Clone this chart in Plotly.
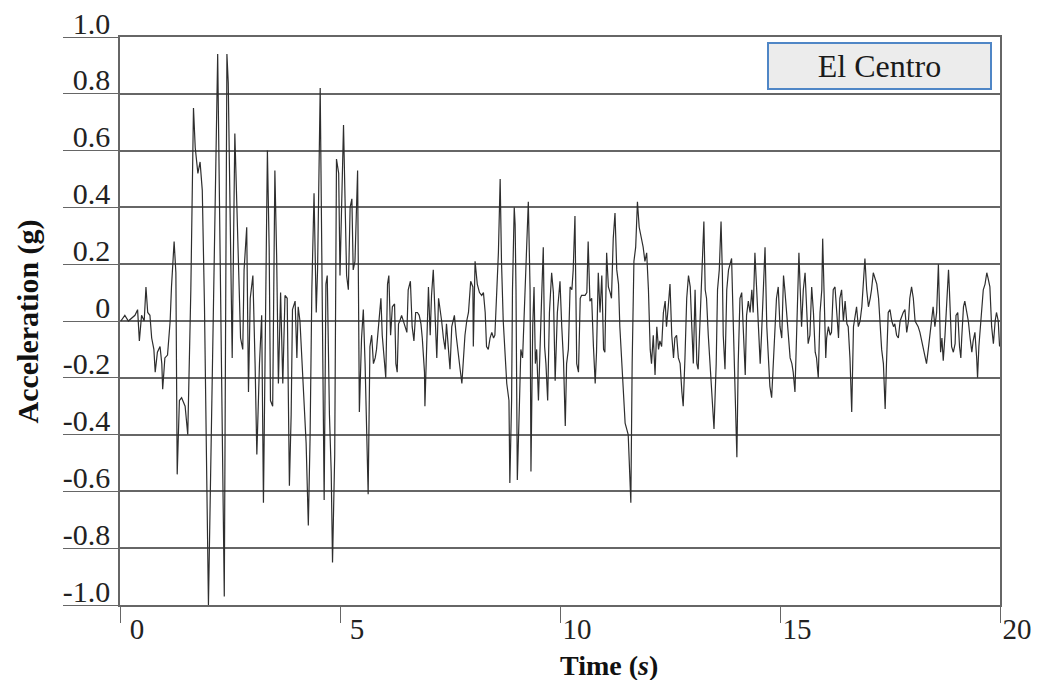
import plotly.graph_objects as go

# El Centro ground acceleration record, turning points
time_s = [
    0.02, 0.11, 0.19, 0.27, 0.34, 0.40, 0.44, 0.49, 0.55, 0.59, 0.63, 0.68, 0.72, 0.77, 0.80, 0.85,
    0.91, 0.95, 0.97, 1.02, 1.08, 1.14, 1.17, 1.23, 1.27, 1.30, 1.35, 1.40, 1.48, 1.54, 1.57, 1.61,
    1.67, 1.71, 1.77, 1.82, 1.87, 1.92, 2.01, 2.22, 2.37, 2.43, 2.46, 2.55, 2.61,
    2.69, 2.74, 2.79, 2.82, 2.88, 2.92, 2.96, 3.02, 3.07, 3.11, 3.17, 3.22, 3.26, 3.30, 3.35, 3.39,
    3.42, 3.47, 3.52, 3.56, 3.60, 3.65, 3.70, 3.75, 3.80, 3.85, 3.89, 3.92, 3.98, 4.02, 4.05, 4.09,
    4.13, 4.17, 4.23, 4.28, 4.32, 4.36, 4.41, 4.46, 4.49, 4.55, 4.59, 4.64, 4.68, 4.71, 4.76, 4.80,
    4.83, 4.88, 4.92, 4.97, 5.00, 5.08,
    5.15, 5.19, 5.23, 5.27, 5.30, 5.34, 5.40, 5.44, 5.49, 5.53, 5.57, 5.61, 5.64, 5.68, 5.72, 5.76,
    5.80, 5.83, 5.87, 5.93, 5.96, 6.01, 6.04, 6.08, 6.11, 6.15, 6.19, 6.24, 6.27, 6.30, 6.33, 6.36,
    6.40, 6.48, 6.52, 6.55, 6.60, 6.64, 6.68, 6.72, 6.76, 6.80, 6.84, 6.87, 6.92, 6.93, 6.97, 7.01,
    7.05, 7.08, 7.12, 7.16, 7.20, 7.24, 7.27, 7.31, 7.35, 7.39, 7.42, 7.46, 7.50, 7.54, 7.60, 7.64,
    7.69, 7.73,
    7.77, 7.80, 7.84, 7.88, 7.92, 7.97, 8.02, 8.03, 8.07, 8.12, 8.17, 8.22, 8.26, 8.30, 8.33, 8.37,
    8.41, 8.45, 8.49, 8.52, 8.56, 8.60, 8.64, 8.67, 8.71, 8.79, 8.84, 8.86, 8.90, 8.92, 8.96, 8.98,
    9.00, 9.03, 9.08, 9.11, 9.15, 9.21, 9.28, 9.32, 9.34, 9.38, 9.41, 9.44, 9.47, 9.51, 9.55, 9.58,
    9.62, 9.65, 9.68, 9.72, 9.76, 9.81, 9.85, 9.89, 9.94, 10.00, 10.04, 10.08, 10.12, 10.15, 10.19,
    10.23, 10.27, 10.30, 10.34,
    10.38, 10.42, 10.46, 10.49, 10.57, 10.61, 10.64, 10.68, 10.72, 10.76, 10.80, 10.83, 10.87, 10.91,
    10.95, 10.99, 11.02, 11.06, 11.10, 11.14, 11.17, 11.21, 11.25, 11.29, 11.33, 11.36, 11.40, 11.44,
    11.48, 11.55, 11.59, 11.61, 11.64, 11.68, 11.72, 11.76, 11.80, 11.86, 11.89, 11.93, 11.97, 12.01,
    12.05, 12.08, 12.12, 12.16, 12.20, 12.24, 12.27, 12.31, 12.35, 12.39, 12.42, 12.46, 12.50, 12.54,
    12.58, 12.61, 12.65, 12.69, 12.73, 12.77, 12.80, 12.84, 12.88, 12.92, 12.96,
    12.99, 13.03, 13.07, 13.11, 13.14, 13.18, 13.24, 13.27, 13.30, 13.33, 13.37, 13.41, 13.45, 13.50,
    13.55, 13.58, 13.62, 13.66, 13.69, 13.71, 13.75, 13.79, 13.83, 13.90, 13.94, 13.98, 14.02, 14.05,
    14.09, 14.13, 14.17, 14.21, 14.24, 14.28, 14.32, 14.36, 14.39, 14.43, 14.47, 14.51, 14.55, 14.58,
    14.62, 14.66, 14.70, 14.74, 14.77, 14.81, 14.85, 14.89, 14.92, 14.96, 15.00, 15.04, 15.08, 15.11,
    15.15, 15.19, 15.23, 15.27, 15.30, 15.34, 15.38, 15.43, 15.46, 15.49, 15.53, 15.57,
    15.61, 15.64, 15.68, 15.72, 15.76, 15.80, 15.83, 15.87, 15.91, 15.95, 15.97, 16.00, 16.04, 16.06,
    16.10, 16.14, 16.17, 16.21, 16.25, 16.29, 16.33, 16.36, 16.40, 16.44, 16.48, 16.52, 16.55, 16.59,
    16.63, 16.67, 16.71, 16.74, 16.78, 16.82, 16.86, 16.89, 16.93, 16.97, 17.01, 17.05, 17.08, 17.12,
    17.16, 17.20, 17.24, 17.27, 17.31, 17.35, 17.39, 17.42, 17.46, 17.50, 17.54, 17.58, 17.61, 17.65,
    17.69, 17.73, 17.77, 17.80, 17.84, 17.88, 17.92, 17.95, 17.99, 18.03, 18.07, 18.14, 18.18,
    18.22, 18.26, 18.30, 18.33, 18.37, 18.41, 18.45, 18.48, 18.52, 18.56, 18.60, 18.62, 18.65, 18.68,
    18.71, 18.75, 18.79, 18.83, 18.85, 18.88, 18.90, 18.94, 18.98, 19.00, 19.04, 19.08, 19.11, 19.13,
    19.17, 19.20, 19.24, 19.28, 19.32, 19.36, 19.39, 19.43, 19.47, 19.49, 19.52, 19.55, 19.58, 19.62,
    19.66, 19.70, 19.73, 19.77, 19.81, 19.85, 19.89, 19.92, 19.96, 19.99,
]

accel_g = [
    0.0, 0.02, 0.0, 0.01, 0.02, 0.04, -0.07, 0.02, 0.0, 0.12, 0.03, 0.02, -0.06, -0.10, -0.18, -0.11,
    -0.09, -0.15, -0.24, -0.13, -0.12, 0.0, 0.12, 0.28, 0.17, -0.54, -0.28, -0.27, -0.30, -0.40, -0.18, 0.11,
    0.75, 0.61, 0.52, 0.56, 0.46, 0.05, -1.0, 0.94, -0.97, 0.94, 0.84, -0.13, 0.66,
    0.25, -0.06, -0.10, 0.18, 0.33, -0.25, 0.08, 0.16, -0.15, -0.47, -0.15, 0.02, -0.64, -0.15, 0.60, 0.26,
    -0.28, -0.30, 0.53, 0.23, -0.22, 0.10, -0.22, 0.09, 0.08, -0.58, -0.33, 0.04, 0.07, -0.13, 0.05, 0.0,
    -0.11, -0.23, -0.43, -0.72, -0.41, 0.11, 0.45, 0.03, 0.18, 0.82, 0.21, -0.63, 0.13, 0.16, -0.33, -0.53,
    -0.85, -0.47, 0.57, 0.52, 0.16, 0.69,
    0.16, 0.11, 0.40, 0.43, 0.18, 0.21, 0.53, -0.32, -0.06, 0.04, -0.15, -0.41, -0.61, -0.09, -0.05, -0.15,
    -0.13, -0.10, -0.02, 0.08, -0.05, -0.15, -0.20, 0.13, 0.16, -0.05, 0.05, 0.06, -0.15, -0.18, -0.01, 0.0,
    0.02, -0.02, -0.04, 0.11, 0.14, -0.02, -0.07, 0.03, 0.03, 0.02, -0.01, -0.06, -0.18, -0.30, -0.08, 0.12,
    -0.05, 0.09, 0.18, 0.03, -0.13, 0.08, 0.05, 0.0, -0.06, -0.10, -0.01, -0.09, -0.17, -0.02, 0.02, -0.05,
    -0.13, -0.17,
    -0.22, -0.13, -0.05, 0.0, 0.03, 0.14, 0.12, -0.09, 0.21, 0.13, 0.10, 0.09, 0.10, 0.03, -0.09, -0.10,
    -0.06, -0.04, -0.06, -0.05, 0.11, 0.24, 0.50, 0.21, 0.0, -0.22, -0.28, -0.57, -0.28, 0.11, 0.40, 0.34,
    0.11, -0.56, -0.28, -0.10, -0.13, 0.11, 0.42, 0.11, -0.53, -0.02, 0.12, -0.15, -0.10, -0.28, -0.11, 0.07,
    0.26, -0.09, -0.15, -0.28, 0.03, 0.17, 0.10, -0.21, 0.03, 0.14, -0.02, -0.14, -0.37, -0.15, -0.10,
    0.12, 0.11, 0.18, 0.37,
    -0.15, -0.18, 0.08, 0.09, 0.09, 0.10, 0.28, 0.07, 0.08, -0.09, -0.22, -0.11, 0.17, 0.03,
    0.16, -0.10, -0.11, 0.24, 0.12, 0.10, 0.08, 0.29, 0.38, 0.18, 0.13, -0.02, -0.15, -0.28,
    -0.36, -0.40, -0.54, -0.64, -0.15, 0.21, 0.26, 0.42, 0.33, 0.29, 0.26, 0.21, 0.24, 0.11,
    -0.10, -0.15, -0.05, -0.19, -0.02, -0.10, -0.07, -0.09, 0.03, 0.07, -0.02, 0.05, 0.13, -0.05,
    -0.13, -0.06, -0.05, -0.13, -0.15, -0.25, -0.30, -0.13, 0.08, 0.16, 0.12,
    0.0, -0.15, 0.11, -0.15, -0.17, 0.0, 0.28, 0.35, 0.11, 0.08, -0.05, -0.15, -0.28, -0.38,
    -0.15, 0.11, 0.18, 0.35, 0.17, -0.05, -0.17, 0.11, 0.18, 0.22, -0.02, -0.22, -0.48, -0.15,
    0.08, 0.10, -0.02, -0.19, 0.02, 0.07, 0.03, 0.11, 0.03, 0.24, 0.11, -0.05, -0.15, -0.05,
    0.11, 0.26, -0.02, -0.13, -0.23, -0.27, -0.13, 0.03, 0.08, 0.12, -0.02, -0.06, 0.16, 0.11,
    0.03, -0.05, -0.13, -0.15, -0.18, -0.25, -0.02, 0.24, 0.11, -0.02, 0.11, 0.17,
    0.03, -0.08, -0.05, 0.12, 0.03, -0.11, -0.13, -0.20, 0.03, 0.11, 0.29, 0.11, -0.13, -0.06,
    -0.02, -0.05, -0.04, 0.11, 0.12, 0.03, -0.06, 0.08, 0.11, 0.0, 0.07, -0.01, -0.02, -0.13,
    -0.32, -0.02, 0.03, 0.05, -0.02, 0.0, 0.05, 0.11, 0.22, 0.11, 0.05, 0.08, 0.11, 0.17,
    0.15, 0.13, 0.08, -0.02, -0.10, -0.15, -0.31, -0.15, 0.03, 0.04, 0.0, -0.02, -0.01, -0.05,
    -0.06, 0.0, 0.02, 0.03, 0.04, -0.04, 0.0, 0.08, 0.12, 0.08, 0.0, -0.02, -0.04,
    -0.07, -0.11, -0.13, -0.15, -0.10, -0.05, 0.02, 0.05, -0.02, 0.03, 0.20, 0.04, -0.11, -0.06,
    -0.14, -0.05, 0.07, 0.18, 0.11, -0.01, -0.09, -0.11, -0.08, 0.02, 0.03, -0.09, -0.13, -0.06,
    0.05, 0.07, 0.03, 0.0, -0.06, -0.11, -0.07, -0.04, -0.13, -0.20, -0.09, -0.02, 0.03, 0.11,
    0.13, 0.17, 0.15, 0.12, -0.02, -0.08, 0.0, 0.03, 0.0, -0.09,
]

x_ticks = [0, 5, 10, 15, 20]
y_ticks = [-1.0, -0.8, -0.6, -0.4, -0.2, 0.0, 0.2, 0.4, 0.6, 0.8, 1.0]
y_tick_text = ["-1.0", "-0.8", "-0.6", "-0.4", "-0.2", "0", "0.2", "0.4", "0.6", "0.8", "1.0"]
series_name = "El Centro"

SERIF = "Liberation Serif"
GRID = "#666666"

fig = go.Figure()
fig.add_trace(go.Scatter(
    x=time_s, y=accel_g, mode="lines", name=series_name,
    line=dict(color="#2e2e2e", width=1.2), showlegend=False,
))

fig.update_layout(
    width=1046, height=680,
    margin=dict(l=120, r=46, t=37, b=75, autoexpand=False),
    paper_bgcolor="white", plot_bgcolor="white",
    xaxis=dict(
        range=[0, 20], tickvals=x_ticks, ticks="outside", ticklen=16,
        tickcolor=GRID, tickwidth=1, showline=True, linecolor=GRID, linewidth=1.5,
        mirror=True, showgrid=False, zeroline=False, automargin=False,
        tickfont=dict(family=SERIF, size=29, color="#222"),
        ticklabelshift=17, ticklabelstandoff=-19,
    ),
    yaxis=dict(
        range=[-1, 1], tickvals=y_ticks, ticktext=y_tick_text,
        ticks="outside", ticklen=55, tickcolor=GRID, tickwidth=1,
        showline=True, linecolor=GRID, linewidth=1.5, mirror=True,
        showgrid=True, gridcolor=GRID, gridwidth=1.5, zeroline=False, automargin=False,
        tickfont=dict(family=SERIF, size=30, color="#222"),
        ticklabelstandoff=-53, ticklabelshift=-14,
    ),
    annotations=[
        dict(text="<b>Time (<i>s</i>)</b>", xref="paper", yref="paper",
             x=0.556, y=-0.106, xanchor="center", yanchor="middle", showarrow=False,
             font=dict(family=SERIF, size=28, color="#111")),
        dict(text="<b>Acceleration (g)</b>", xref="paper", yref="paper",
             x=-0.104, y=0.5, xanchor="center", yanchor="middle", textangle=-90,
             showarrow=False, font=dict(family=SERIF, size=30, color="#111")),
        dict(text=series_name, xref="paper", yref="paper",
             x=0.8636, y=0.9489, xanchor="center", yanchor="middle", showarrow=False,
             width=219, height=42, align="center", valign="middle",
             bgcolor="#ececec", bordercolor="#4f86c6", borderwidth=2, borderpad=1,
             font=dict(family=SERIF, size=32, color="#1a1a1a")),
    ],
)

fig.write_html("out.html")
